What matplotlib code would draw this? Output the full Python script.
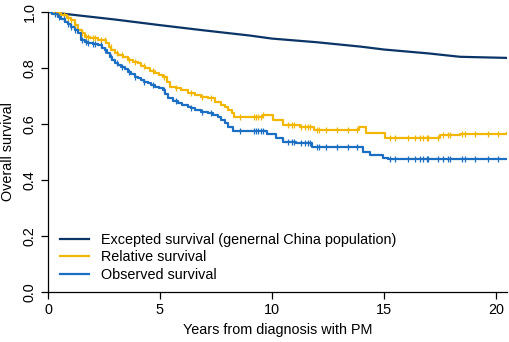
import numpy as np
import matplotlib
matplotlib.use("Agg")
import matplotlib.pyplot as plt
from matplotlib.lines import Line2D

plt.rcParams['font.family'] = ['Liberation Sans', 'DejaVu Sans']

# Expected survival (general population) - smooth
exp_t = [0, 1, 2, 3, 5, 7, 9, 10, 12, 14, 15, 17, 18.4, 20.5]
exp_s = [1.0, 0.991, 0.982, 0.973, 0.953, 0.934, 0.916, 0.905, 0.892, 0.876, 0.866, 0.852, 0.84, 0.836]

# Observed survival (step)
obs_t = [0, 0.2, 0.45, 0.6, 0.74, 0.9, 1.04, 1.2, 1.34, 1.49, 1.65, 1.79, 2.0, 2.23, 2.4, 2.53,
         2.65, 2.75, 2.87, 2.98, 3.12, 3.27, 3.42, 3.57, 3.72, 3.87, 4.02, 4.17, 4.3, 4.46, 4.6,
         4.76, 4.95, 5.13, 5.25, 5.36, 5.6, 5.8, 6.0, 6.25, 6.4, 6.55, 6.85, 7.14, 7.35, 7.59,
         7.75, 7.89, 8.05, 8.26, 9.8, 10.2, 10.5, 11.1, 11.8, 14.07, 14.4, 14.95, 15.2, 20.5]
obs_s = [1.0, 0.992, 0.983, 0.975, 0.965, 0.956, 0.948, 0.936, 0.924, 0.9, 0.894, 0.888, 0.885,
         0.882, 0.873, 0.864, 0.852, 0.84, 0.828, 0.817, 0.811, 0.805, 0.796, 0.787, 0.778, 0.769,
         0.763, 0.757, 0.751, 0.745, 0.739, 0.733, 0.727, 0.721, 0.706, 0.692, 0.683, 0.674, 0.668,
         0.662, 0.656, 0.65, 0.644, 0.638, 0.632, 0.626, 0.614, 0.602, 0.59, 0.576, 0.565, 0.55,
         0.536, 0.532, 0.518, 0.50, 0.49, 0.478, 0.474, 0.474]

# Relative survival (step)
rel_t = [0, 0.3, 0.6, 0.85, 1.04, 1.2, 1.34, 1.5, 1.64, 1.9, 2.23, 2.6, 2.72, 2.83, 2.98, 3.13,
         3.35, 3.57, 3.8, 4.0, 4.15, 4.32, 4.55, 4.76, 4.95, 5.13, 5.3, 5.43, 5.7, 5.95, 6.25,
         6.55, 6.85, 7.14, 7.45, 7.74, 7.9, 8.04, 8.2, 8.33, 9.6, 10.05, 10.5, 11.25, 11.9, 13.9,
         14.2, 15.05, 16.3, 17.5, 18.4, 20.5]
rel_s = [1.0, 0.995, 0.989, 0.98, 0.971, 0.955, 0.936, 0.924, 0.912, 0.906, 0.9, 0.888, 0.876,
         0.864, 0.855, 0.846, 0.838, 0.829, 0.823, 0.817, 0.808, 0.8, 0.79, 0.781, 0.775, 0.769,
         0.751, 0.733, 0.727, 0.721, 0.712, 0.704, 0.698, 0.692, 0.68, 0.668, 0.659, 0.65, 0.638,
         0.626, 0.632, 0.614, 0.596, 0.589, 0.578, 0.589, 0.567, 0.549, 0.551, 0.561, 0.564, 0.567]

# Censoring times
cens_t = [0.3, 0.5, 0.7, 0.9, 1.05, 1.2, 1.5, 1.7, 1.8, 2.0, 2.1, 2.35, 2.55, 2.8, 3.1, 3.3, 3.6,
          3.9, 4.3, 4.7, 5.2, 5.7, 6.4, 6.9, 7.3, 8.6, 9.2, 9.3, 9.4, 9.5, 9.6, 10.7, 10.9, 11.0,
          11.3, 11.5, 11.6, 11.7, 12.0, 12.1, 12.4, 12.9, 13.4, 13.8, 15.27, 15.49, 16.07, 16.38,
          16.61, 16.74, 16.92, 16.96, 17.41, 17.63, 17.86, 17.95, 18.48, 18.62, 19.06, 19.64, 20.09]

legend_labels = ["Excepted survival (genernal China population)", "Relative survival", "Observed survival"]

c_exp = "#0b3566"
c_rel = "#f2b705"
c_obs = "#1b6ec2"
FS = 10.4

fig = plt.figure(figsize=(5.10, 3.42), dpi=100)
ax = fig.add_axes([0.094, 0.146, 0.900, 0.819])

def step_at(ts, ss, x):
    idx = np.searchsorted(ts, x, side='right') - 1
    return np.asarray(ss)[idx]

ax.plot(exp_t, exp_s, color=c_exp, lw=1.6)
ax.step(rel_t, rel_s, where='post', color=c_rel, lw=1.6)
ax.step(obs_t, obs_s, where='post', color=c_obs, lw=1.6)
ct = np.array(cens_t)
ax.plot(ct, step_at(rel_t, rel_s, ct), ls='none', marker='|', ms=5, mew=0.9, color=c_rel)
ax.plot(ct, step_at(obs_t, obs_s, ct), ls='none', marker='|', ms=5, mew=0.9, color=c_obs)

ax.set_xlim(0, 20.5)
ax.set_ylim(0, 1.0)
ax.set_xticks([0, 5, 10, 15, 20])
ax.set_yticks([0.0, 0.2, 0.4, 0.6, 0.8, 1.0])
ax.set_yticklabels(["0.0", "0.2", "0.4", "0.6", "0.8", "1.0"], rotation=90, va='center')
ax.tick_params(direction='out', length=5, width=0.9, labelsize=FS, colors='black', pad=3)
for s in ['top', 'right']:
    ax.spines[s].set_visible(False)
for s in ['left', 'bottom']:
    ax.spines[s].set_linewidth(0.9)
ax.set_xlabel("Years from diagnosis with PM", fontsize=FS)
ax.set_ylabel("Overall survival", fontsize=FS)
ax.yaxis.set_label_coords(-0.087, 0.5)
ax.xaxis.set_label_coords(0.5, -0.136)
ax.xaxis.label.set_va('center')
ax.yaxis.label.set_va('center')

handles = [Line2D([], [], color=c, lw=1.6) for c in (c_exp, c_rel, c_obs)]
ax.legend(handles, legend_labels, loc='lower left', bbox_to_anchor=(0.005, 0.0), frameon=False,
          fontsize=FS, handlelength=2.0, handletextpad=0.8, labelspacing=0.25, borderaxespad=0.3)

fig.savefig("out.png", dpi=100)
